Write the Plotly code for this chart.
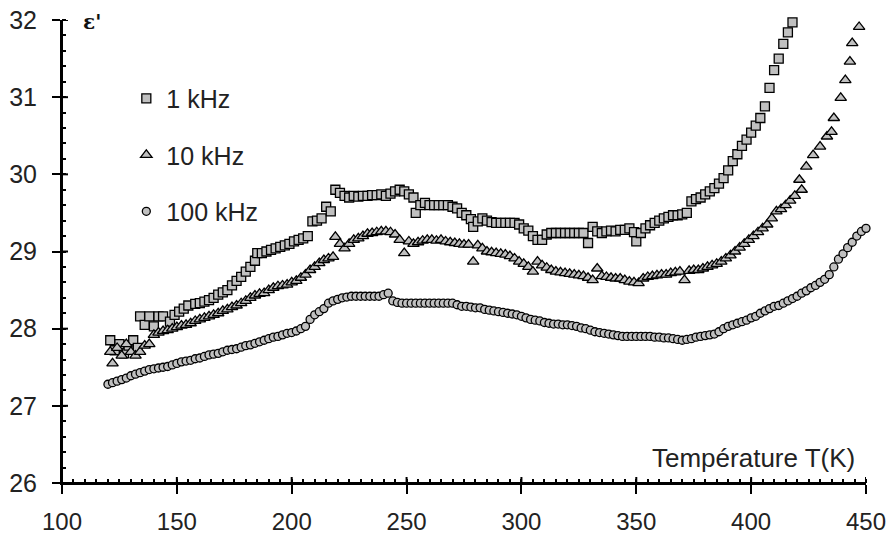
import plotly.graph_objects as go

# ---- data ----
t_1k = [121,123,125,127,129,131,133,134,136,138,140,142,144,147,149,151,153,155,158,160,
        162,164,166,168,170,172,174,176,178,180,182,184,185,187,189,191,193,195,197,199,
        201,203,205,207,209,211,213,215,217,219,221,223,225,227,229,231,233,235,237,239,
        241,243,245,247,249,251,253,254,256,258,260,262,264,266,268,270,272,274,276,278,
        279,281,283,285,287,289,291,293,295,297,299,301,303,305,307,309,311,313,315,317,
        319,321,323,325,327,329,331,333,335,337,339,341,343,345,347,349,350,352,354,356,
        358,360,362,364,366,368,370,372,374,376,378,380,382,384,386,388,390,392,394,396,
        398,400,402,404,406,408,410,412,414,416,418]
eps_1k = [27.85,27.72,27.80,27.68,27.78,27.85,27.75,28.16,28.05,28.16,28.03,28.16,28.16,28.09,28.18,28.22,28.26,28.30,28.32,28.33,
          28.35,28.37,28.40,28.44,28.47,28.50,28.56,28.62,28.67,28.74,28.80,28.88,28.98,28.98,29.00,29.02,29.04,29.06,29.08,29.10,
          29.13,29.15,29.17,29.20,29.39,29.40,29.43,29.58,29.52,29.80,29.76,29.72,29.70,29.72,29.71,29.72,29.72,29.73,29.73,29.74,
          29.72,29.75,29.78,29.80,29.78,29.74,29.70,29.50,29.60,29.63,29.60,29.60,29.60,29.60,29.60,29.58,29.56,29.50,29.47,29.42,
          29.32,29.39,29.43,29.40,29.38,29.37,29.37,29.37,29.37,29.37,29.35,29.30,29.27,29.20,29.15,29.15,29.22,29.24,29.24,29.24,
          29.24,29.24,29.24,29.24,29.24,29.11,29.32,29.26,29.24,29.26,29.27,29.26,29.28,29.28,29.30,29.25,29.13,29.24,29.30,29.34,
          29.37,29.40,29.43,29.45,29.47,29.47,29.48,29.50,29.65,29.68,29.70,29.74,29.78,29.82,29.88,29.95,30.05,30.17,30.26,30.37,
          30.45,30.54,30.63,30.73,30.88,31.12,31.35,31.50,31.69,31.84,31.97]

t_10k = [121,122,124,126,128,130,132,134,136,138,140,142,144,146,148,150,152,154,156,158,
         160,162,164,166,168,170,172,174,176,178,180,182,184,186,188,190,192,194,196,198,
         200,202,204,206,208,210,212,214,216,218,219,221,223,225,227,229,231,233,235,237,
         239,241,243,245,247,249,251,253,255,257,259,261,263,265,267,269,271,273,275,277,
         279,281,283,285,287,289,291,293,295,297,299,301,303,305,307,309,311,313,315,317,
         319,321,323,325,327,329,331,333,335,337,339,341,343,345,347,349,351,353,355,357,
         359,361,363,365,367,369,371,373,375,377,379,381,383,385,387,389,391,393,395,397,
         399,401,403,405,407,409,411,413,415,417,419,421,422,424,427,430,433,435,436,439,
         441,443,444,447]
eps_10k = [27.70,27.55,27.75,27.65,27.80,27.70,27.65,27.70,27.78,27.80,27.92,27.95,27.97,27.98,28.00,28.02,28.04,28.05,28.07,28.10,
           28.12,28.14,28.16,28.18,28.20,28.23,28.25,28.28,28.30,28.33,28.36,28.40,28.43,28.45,28.46,28.50,28.53,28.55,28.56,28.57,
           28.60,28.62,28.66,28.70,28.76,28.80,28.85,28.89,28.91,28.93,29.19,29.10,29.04,29.10,29.15,29.17,29.20,29.23,29.24,29.25,
           29.26,29.26,29.25,29.22,29.15,28.98,29.13,29.10,29.12,29.14,29.15,29.15,29.14,29.15,29.13,29.12,29.11,29.10,29.09,29.09,
           28.87,29.08,29.04,29.00,28.99,28.98,28.97,28.96,28.94,28.91,28.87,28.84,28.80,28.74,28.87,28.82,28.79,28.76,28.74,28.73,
           28.72,28.71,28.70,28.69,28.68,28.66,28.63,28.78,28.68,28.67,28.66,28.65,28.65,28.63,28.61,28.60,28.59,28.65,28.67,28.68,
           28.69,28.70,28.70,28.72,28.73,28.74,28.63,28.75,28.76,28.76,28.78,28.80,28.82,28.84,28.87,28.91,28.95,29.00,29.05,29.10,
           29.15,29.20,29.25,29.30,29.35,29.43,29.52,29.55,29.60,29.66,29.72,29.93,29.80,30.10,30.25,30.36,30.49,30.55,30.73,30.99,
           31.22,31.46,31.70,31.91]

t_100k = [120,122,124,126,128,130,132,134,136,138,140,142,144,146,148,150,152,154,156,158,
          160,162,164,166,168,170,172,174,176,178,180,182,184,186,188,190,192,194,196,198,
          200,202,204,206,208,210,212,214,216,218,220,222,224,226,228,230,232,234,236,238,
          240,242,244,246,248,250,252,254,256,258,260,262,264,266,268,270,272,274,276,278,
          280,282,284,286,288,290,292,294,296,298,300,302,304,306,308,310,312,314,316,318,
          320,322,324,326,328,330,332,334,336,338,340,342,344,346,348,350,352,354,356,358,
          360,362,364,366,368,370,372,374,376,378,380,382,384,386,388,390,392,394,396,398,
          400,402,404,406,408,410,412,414,416,418,420,422,424,426,428,430,432,434,436,438,
          440,442,444,446,448,450]
eps_100k = [27.28,27.30,27.32,27.34,27.36,27.39,27.41,27.43,27.45,27.47,27.48,27.49,27.50,27.51,27.53,27.55,27.57,27.58,27.59,27.61,
            27.62,27.64,27.66,27.67,27.68,27.70,27.72,27.73,27.74,27.76,27.78,27.79,27.81,27.83,27.85,27.87,27.89,27.90,27.92,27.94,
            27.95,27.97,28.00,28.03,28.12,28.18,28.22,28.26,28.33,28.36,28.38,28.40,28.41,28.42,28.42,28.42,28.42,28.42,28.42,28.42,
            28.44,28.46,28.36,28.34,28.33,28.33,28.33,28.33,28.33,28.33,28.33,28.33,28.33,28.33,28.33,28.33,28.31,28.29,28.29,28.28,
            28.27,28.27,28.25,28.24,28.23,28.22,28.21,28.20,28.19,28.18,28.16,28.14,28.12,28.11,28.10,28.08,28.07,28.06,28.06,28.05,
            28.05,28.04,28.03,28.01,28.00,27.98,27.96,27.95,27.94,27.93,27.92,27.91,27.90,27.90,27.90,27.90,27.90,27.90,27.90,27.89,
            27.89,27.88,27.88,27.87,27.86,27.85,27.86,27.87,27.89,27.90,27.91,27.92,27.93,27.96,28.00,28.03,28.05,28.07,28.09,28.11,
            28.14,28.16,28.20,28.23,28.26,28.29,28.30,28.33,28.36,28.39,28.42,28.46,28.49,28.53,28.56,28.60,28.64,28.70,28.80,28.90,
            28.97,29.05,29.12,29.20,29.26,29.30]

x_ticks = [100, 150, 200, 250, 300, 350, 400, 450]
y_ticks = [26, 27, 28, 29, 30, 31, 32]

FONT = "Liberation Sans, Arial, sans-serif"
FILL = "#c0c0c0"
PLOT_W, PLOT_H = 804, 463

fig = go.Figure()
series = [
    ("1 kHz", t_1k, eps_1k, "square", 9),
    ("10 kHz", t_10k, eps_10k, "triangle-up", 10),
    ("100 kHz", t_100k, eps_100k, "circle", 8),
]
for name, t, e, sym, sz in series:
    fig.add_trace(go.Scatter(
        x=t, y=e, mode="markers", name=name, legendgroup=name,
        marker=dict(symbol=sym, size=sz, color=FILL, line=dict(color="black", width=1.3)),
        cliponaxis=False,
    ))

# axis lines (drawn explicitly) and the inner half of the crossing major ticks
fig.add_shape(type="line", xref="x domain", yref="y domain", x0=0, x1=1, y0=0, y1=0,
              line=dict(color="black", width=2))
fig.add_shape(type="line", xref="x domain", yref="y domain", x0=0, x1=0, y0=0, y1=1,
              line=dict(color="black", width=2))
for v in x_ticks:
    fig.add_shape(type="line", xref="x", yref="y domain", x0=v, x1=v, y0=0, y1=6 / PLOT_H,
                  line=dict(color="black", width=2))
for v in y_ticks:
    fig.add_shape(type="line", xref="x domain", yref="y", x0=0, x1=6 / PLOT_W, y0=v, y1=v,
                  line=dict(color="black", width=2))

fig.update_layout(
    width=891, height=538,
    margin=dict(l=62, r=25, t=20, b=55, autoexpand=False),
    paper_bgcolor="white", plot_bgcolor="white",
    font=dict(family=FONT, size=25, color="#222"),
    showlegend=True,
    legend=dict(x=0.08, y=0.88, xanchor="left", yanchor="top",
                bgcolor="rgba(0,0,0,0)", tracegroupgap=21,
                font=dict(family=FONT, size=25, color="#222"),
                itemwidth=30),
    xaxis=dict(range=[100, 450], tickvals=x_ticks, ticktext=[str(v) for v in x_ticks],
               automargin=False,
               showgrid=False, zeroline=False, showline=True, linecolor="black", linewidth=2,
               ticks="outside", ticklen=9, tickwidth=2, tickcolor="black",
               ticklabelstandoff=7,
               tickfont=dict(family=FONT, size=24, color="#222"),
               minor=dict(dtick=5, ticks="inside", ticklen=4, tickwidth=1.5, tickcolor="black", showgrid=False)),
    yaxis=dict(range=[26, 32], tickvals=y_ticks, ticktext=[str(v) for v in y_ticks],
               automargin=False,
               showgrid=False, zeroline=False, showline=True, linecolor="black", linewidth=2,
               ticks="outside", ticklen=8, tickwidth=2, tickcolor="black",
               ticklabelstandoff=10,
               tickfont=dict(family=FONT, size=25, color="#222"),
               minor=dict(dtick=0.2, ticks="inside", ticklen=4, tickwidth=1.5, tickcolor="black", showgrid=False)),
    annotations=[
        dict(text="<b>ε'</b>", xref="paper", yref="paper", x=(92 - 62) / PLOT_W, y=0.995,
             xanchor="center", yanchor="middle", showarrow=False,
             font=dict(family="DejaVu Serif, serif", size=20, color="#111")),
        dict(text="Température T(K)", xref="paper", yref="paper", x=(857 - 62) / PLOT_W,
             y=(483 - 458) / PLOT_H,
             xanchor="right", yanchor="middle", showarrow=False,
             font=dict(family=FONT, size=26, color="#222")),
    ],
)

fig.write_html("out.html", config={"displayModeBar": False},
               post_script="document.body.style.margin='0';")
